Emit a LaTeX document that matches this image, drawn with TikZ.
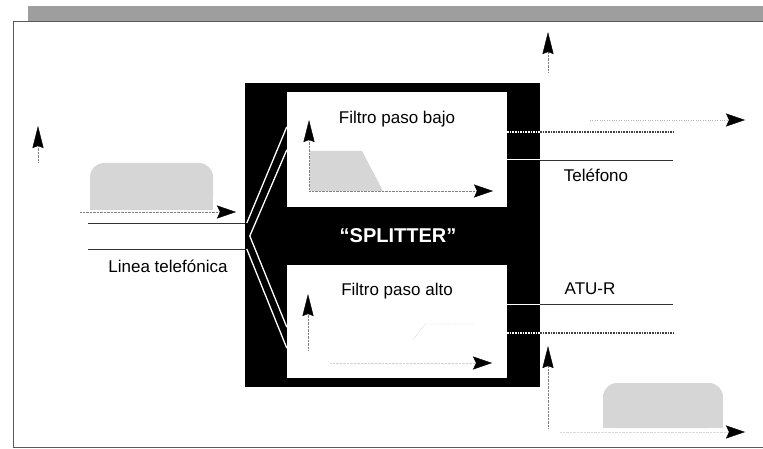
\documentclass[tikz,border=0pt]{standalone}
\usepackage{fontspec}
\setmainfont{Liberation Sans}
\usetikzlibrary{arrows.meta,positioning,calc}

\begin{document}
\begin{tikzpicture}[x=1pt,y=-1pt,
 lbl/.style={font=\fontsize{17}{19}\selectfont,inner sep=0pt},
 blockbox/.style={fill=white,draw=none,inner sep=0pt,minimum width=220pt},
 vaxis/.style={densely dotted,gray,-{Stealth[length=22pt,width=11pt,inset=2pt,black]}},
 haxis/.style={densely dotted,gray,-{Stealth[length=19pt,width=13pt,inset=3pt,black]}},
 halftone/.style={fill=black!16,draw=none},
 wire/.style={line width=0.9pt,black!80},
 dotwire/.style={line width=1.3pt,dash pattern=on 1.6pt off 1pt,black!75},
 inwire/.style={line width=1.3pt,white}]
\useasboundingbox (0,0) rectangle (763,449);
% frame and top bar
\fill[black!38] (28,6) rectangle (763,21);
\draw[line width=1pt,black!65] (763,22) -- (13,22) -- (13,447) -- (763,447);

% splitter and the two filters
\node[fill=black,inner sep=0pt,minimum width=295pt,minimum height=304pt] (split) at (392.5,235) {};
\node[blockbox,minimum height=115pt] (lpf) at (397,149.5) {};
\node[blockbox,minimum height=113pt] (hpf) at (397,321.5) {};
\node[lbl,font=\fontsize{20}{22}\selectfont\bfseries,text=white] (spl) at (398,236) {``SPLITTER''};
\node[lbl,below=19pt of lpf.north] (lpftxt) {Filtro paso bajo};
\node[lbl,below=18pt of hpf.north] (hpftxt) {Filtro paso alto};

% telephone line in
\coordinate (linA) at (88,223);
\coordinate (linB) at (88,249);
\draw[wire] (linA) -- (linA -| split.west);
\draw[wire] (linB) -- (linB -| split.west);
\node[lbl] (lintxt) at (168,266) {Linea telef\'onica};
\coordinate (vtx) at ($(split.west)+(5,1)$);
\draw[inwire] ($(linA -| split.west)+(2,0)$) -- ($(lpf.north west)+(0,35)$);
\draw[inwire] (vtx) -- ($(lpf.north west)+(0,58)$);
\draw[inwire] ($(linB -| split.west)+(2,0)$) -- ($(hpf.south west)+(0,-30)$);
\draw[inwire] (vtx) -- ($(hpf.south west)+(0,-51)$);

% outputs
\coordinate (telA) at (673,132);
\coordinate (telB) at (673,160);
\coordinate (atuA) at (673,304);
\coordinate (atuB) at (673,333);
\draw[dotwire,white] (lpf.east |- telA) -- (split.east |- telA);
\draw[dotwire] (split.east |- telA) -- (telA);
\draw[inwire,line width=1pt] (lpf.east |- telB) -- (split.east |- telB);
\draw[wire] (split.east |- telB) -- (telB);
\draw[inwire,line width=1pt] (hpf.east |- atuA) -- (split.east |- atuA);
\draw[wire] (split.east |- atuA) -- (atuA);
\draw[dotwire,white] (hpf.east |- atuB) -- (split.east |- atuB);
\draw[dotwire] (split.east |- atuB) -- (atuB);
\node[lbl] (teltxt) at (596,175) {Tel\'efono};
\node[lbl] (atutxt) at (590,289) {ATU-R};

% spectrum at the line
\fill[halftone,rounded corners=14pt] (90,163) rectangle (213,210);
\fill[halftone] (90,185) rectangle (213,210);
\coordinate (lo) at (38,162);
\draw[vaxis] (lo) -- (38,126);
\draw[haxis] (80,212) -- (236,212);

% low pass
\fill[halftone] (310,191) -- (310,151) -- (362,151) -- (383,191) -- cycle;
\draw[vaxis] (309,191) -- (309,120);
\draw[haxis] (309,191) -- (493,191);

% high pass
\draw[vaxis] (308,350) -- (308,294);
\draw[haxis,gray!35] (330,363) -- (492,363);
\draw[densely dotted,gray!70] (413,340) -- (425,324) -- (473,324);

% spectrum at the phone
\draw[vaxis] (548,72) -- (548,32);
\draw[haxis,dotted,gray!60] (590,120) -- (745,120);

% spectrum at the modem
\fill[halftone,rounded corners=14pt] (603,383) rectangle (723,428);
\fill[halftone] (603,405) rectangle (723,428);
\draw[vaxis] (548,428) -- (548,346);
\draw[haxis,gray!30] (560,432) -- (745,432);
\end{tikzpicture}
\end{document}
